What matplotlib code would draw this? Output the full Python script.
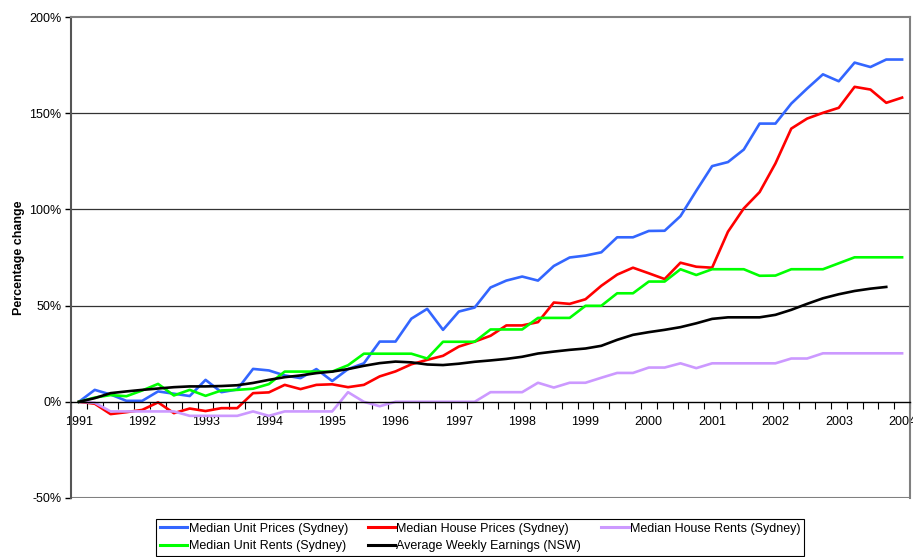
import matplotlib.pyplot as plt
import numpy as np

plt.rcParams['font.family'] = ['Liberation Sans', 'DejaVu Sans']

# quarterly index, 0 = 1991
years = list(range(1991, 2005))

unit_prices = [0, 6.2, 3.8, 0.5, 0.5, 5.4, 4.2, 3, 11.4, 5, 6.4, 17.1, 16.3, 13.7,
               12.3, 17, 10.8, 17, 20, 31.3, 31.3, 43.2, 48.3, 37.4, 46.9, 49, 59.4,
               63, 65.1, 63, 70.6, 75, 76, 77.7, 85.5, 85.5, 88.8, 88.9, 96.5, 109.7,
               122.5, 124.6, 131.1, 144.6, 144.6, 155, 162.8, 170.2, 166.6, 176.3,
               174, 177.9, 177.9]
house_prices = [0, -1, -6.4, -5.4, -4.2, -0.3, -5.9, -3.5, -4.8, -3.3, -3.3, 4.5, 4.9,
                8.8, 6.6, 8.8, 9.1, 7.6, 8.8, 13.2, 15.8, 19.5, 21.8, 23.9, 28.7, 31.3,
                34.3, 39.7, 39.7, 41.4, 51.6, 50.9, 53.3, 60.3, 66.1, 69.7, 66.8, 63.8,
                72.3, 70.2, 69.7, 88.4, 100.5, 109, 123.9, 142, 147.2, 150.2, 152.8,
                163.7, 162.3, 155.4, 158.1]
house_rents = [0, -0.5, -5, -5, -5, -5, -5, -7.3, -7.3, -7.3, -7.3, -5, -7.3, -5, -5,
               -5, -5, 5, 0, -2.3, 0, 0, 0, 0, 0, 0, 5, 5, 5, 9.9, 7.4, 9.9, 9.9, 12.5,
               15, 15, 17.8, 17.8, 20, 17.5, 20, 20, 20, 20, 20, 22.5, 22.5, 25.2, 25.2,
               25.2, 25.2, 25.2, 25.2]
unit_rents = [0, 2.2, 3.5, 2.9, 5.9, 9.3, 3.3, 6.2, 3.1, 5.9, 6.2, 6.8, 9.2, 15.7, 15.7,
              15.7, 15.7, 19, 25, 25, 25, 25, 22.5, 31.2, 31.2, 31.2, 37.6, 37.6, 37.6,
              43.6, 43.6, 43.6, 49.9, 49.9, 56.4, 56.4, 62.5, 62.5, 68.9, 65.9, 68.9,
              68.9, 68.9, 65.5, 65.6, 68.9, 68.9, 68.9, 72, 75.1, 75.1, 75.1, 75.1]
earnings = [0, 1.9, 4.5, 5.4, 6.2, 6.9, 7.6, 8, 8, 8.2, 8.6, 9.8, 11.4, 12.8, 13.7,
            14.9, 15.7, 17, 18.7, 20.1, 20.9, 20.5, 19.4, 19.1, 19.8, 20.8, 21.5, 22.3,
            23.4, 25.1, 26.1, 27, 27.7, 29.1, 32.2, 34.8, 36.2, 37.4, 38.8, 40.8, 43.1,
            43.9, 43.9, 43.9, 45.2, 47.8, 50.9, 53.8, 55.9, 57.6, 58.8, 59.7]

fig = plt.figure(figsize=(9.13, 5.57), dpi=100)
ax = fig.add_axes([71 / 913, 59 / 557, 839 / 913, 481 / 557])

lw = 1.9
l1, = ax.plot(range(len(unit_prices)), unit_prices, color='#3366FF', lw=lw,
              label='Median Unit Prices (Sydney)')
l2, = ax.plot(range(len(house_prices)), house_prices, color='#FF0000', lw=lw,
              label='Median House Prices (Sydney)')
l3, = ax.plot(range(len(house_rents)), house_rents, color='#CC99FF', lw=lw,
              label='Median House Rents (Sydney)')
l4, = ax.plot(range(len(unit_rents)), unit_rents, color='#00FF00', lw=lw,
              label='Median Unit Rents (Sydney)')
l5, = ax.plot(range(len(earnings)), earnings, color='black', lw=lw,
              label='Average Weekly Earnings (NSW)')

ax.set_xlim(-0.5, 52.5)
ax.set_ylim(-50, 200)

for y in [50, 100, 150]:
    ax.axhline(y, color='#333333', lw=0.9, zorder=0)
ax.axhline(-50, color='#808080', lw=1.5, zorder=0)

ax.spines['bottom'].set_position(('data', 0))
ax.spines['bottom'].set_color('black')
ax.spines['bottom'].set_linewidth(1.0)
ax.spines['left'].set_color('#555555')
ax.spines['left'].set_linewidth(1.5)
for s in ['top', 'right']:
    ax.spines[s].set_color('#808080')
    ax.spines[s].set_linewidth(1.5)

# year labels sit on the data points, tick marks fall between quarters
ax.set_xticks(range(0, 53, 4))
ax.set_xticklabels([str(y) for y in years])
ax.set_xticks(np.arange(-0.5, 53, 1), minor=True)
ax.tick_params(axis='x', which='major', length=0, labelsize=9, pad=10)
ax.tick_params(axis='x', which='minor', direction='out', length=5, width=0.8)
ax.set_yticks([-50, 0, 50, 100, 150, 200])
ax.set_yticklabels(['-50%', '0%', '50%', '100%', '150%', '200%'])
ax.tick_params(axis='y', direction='out', length=4, width=1, labelsize=9, pad=3)
for lab in ax.get_xticklabels():
    lab.set_clip_on(False)

ax.set_ylabel('Percentage change', fontsize=9, fontweight='bold', labelpad=3)

leg = fig.legend(handles=[l1, l4, l2, l5, l3], ncol=3, loc='upper left',
                 bbox_to_anchor=(156 / 913, 1 - 519 / 557), fontsize=9,
                 frameon=True, fancybox=False, edgecolor='black', framealpha=1,
                 handlelength=2.2, handletextpad=0.1, columnspacing=1.6,
                 borderpad=0.3, labelspacing=0.45, borderaxespad=0)
leg.get_frame().set_linewidth(0.8)
for h in leg.legend_handles:
    h.set_linewidth(2.2)

fig.savefig('out.png', dpi=100)
